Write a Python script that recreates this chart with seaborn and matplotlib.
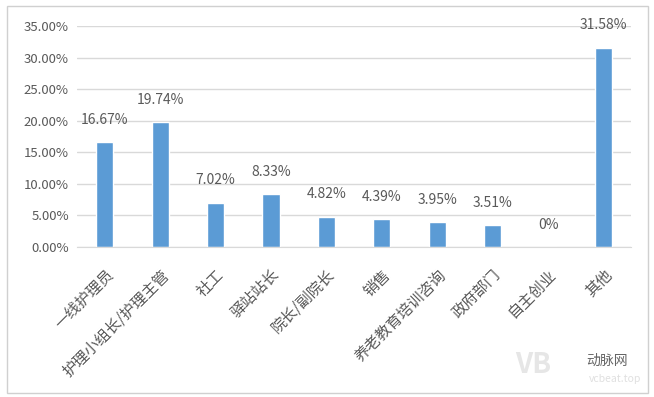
import matplotlib
matplotlib.use("Agg")
import matplotlib.pyplot as plt
from matplotlib.patches import Rectangle
import seaborn as sns
import pandas as pd

categories = ["一线护理员", "护理小组长/护理主管", "社工", "驿站站长", "院长/副院长",
              "销售", "养老教育培训咨询", "政府部门", "自主创业", "其他"]
shares = [16.67, 19.74, 7.02, 8.33, 4.82, 4.39, 3.95, 3.51, 0.0, 31.58]
yticks = [0, 5, 10, 15, 20, 25, 30, 35]

sns.set_style("white")
plt.rcParams['font.family'] = ['Noto Sans CJK SC', 'DejaVu Sans']
text_col = "#595959"

df = pd.DataFrame({"cat": categories, "share": shares})

fig = plt.figure(figsize=(6.54, 3.97), dpi=100)
ax = fig.add_axes([0.118, 0.378, 0.847, 0.556])

sns.barplot(data=df, x="cat", y="share", color="#5B9BD5", saturation=1,
            width=0.31, ax=ax)

ax.set_ylim(0, 35)
ax.set_yticks(yticks)
ax.set_yticklabels([f"{t:.2f}%" for t in yticks], color=text_col, fontsize=9.5)
ax.yaxis.grid(True, color="#D9D9D9", linewidth=1)
ax.set_axisbelow(True)
ax.tick_params(axis="y", length=0, pad=6)
ax.tick_params(axis="x", length=0, pad=14)
ax.set_xticks(range(len(categories)))
ax.set_xticklabels(categories, rotation=45, ha="right", rotation_mode="anchor",
                   color=text_col, fontsize=11)
ax.set_xlabel("")
ax.set_ylabel("")
for s in ["top", "right", "left"]:
    ax.spines[s].set_visible(False)
ax.spines["bottom"].set_color("#D9D9D9")

labels = ["0%" if v == 0 else f"{v:.2f}%" for v in shares]
ax.bar_label(ax.containers[0], labels=labels, padding=11, color=text_col, fontsize=10)

# outer frame
fig.patches.append(Rectangle((0.011, 0.01), 0.98, 0.975, transform=fig.transFigure,
                             fill=False, edgecolor="#D0D0D0", linewidth=1))

# watermark
fig.text(0.815, 0.08, "VB", color="#E6E6E6", fontsize=20, fontweight="bold",
         ha="center", va="center")
fig.text(0.928, 0.09, "动脉网", color="#666666", fontsize=10, ha="center", va="center")
fig.text(0.94, 0.045, "vcbeat.top", color="#E0E0E0", fontsize=7.5, ha="center", va="center")

fig.savefig("out.png", dpi=100)
